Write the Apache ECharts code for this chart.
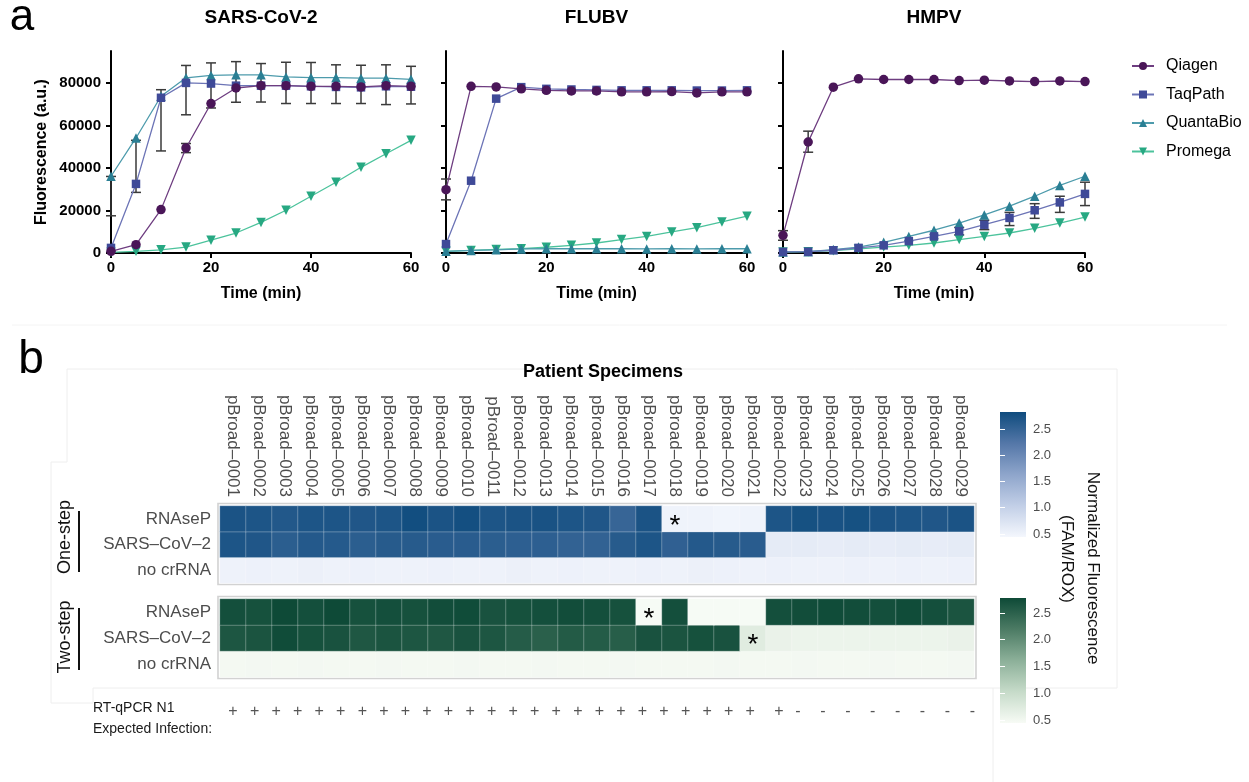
<!DOCTYPE html>
<html>
<head>
<meta charset="utf-8">
<script src="https://cdn.jsdelivr.net/npm/echarts@6/dist/echarts.min.js"></script>
<style>
  html, body { margin: 0; padding: 0; background: #ffffff; }
  #chart { width: 1249px; height: 782px; }
</style>
</head>
<body>
<div id="chart"></div>
<script>
// ---------- panel a: fluorescence over time ----------
const time = [0, 5, 10, 15, 20, 25, 30, 35, 40, 45, 50, 55, 60];
const yTicks = [0, 20000, 40000, 60000, 80000];

const sarsQiagen    = [800, 3900, 20400, 49400, 70300, 77600, 78700, 78700, 78400, 78400, 78100, 78700, 78400];
const sarsTaqPath   = [2400, 32500, 73000, 80000, 79700, 78700, 78700, 78700, 78400, 78100, 77900, 78400, 78200];
const sarsQuantaBio = [36100, 54100, 73700, 82400, 83500, 83800, 83800, 82800, 82500, 82500, 82200, 82200, 81700];
const sarsPromega   = [300, 800, 1500, 2800, 6000, 9400, 14400, 20100, 26700, 33300, 40300, 46700, 53000];
const sarsErrTime = [0, 5, 10, 15, 15, 20, 25, 30, 35, 40, 45, 50, 55, 60];
const sarsErrLow  = [17500, 28500, 48000, 65000, 47200, 68200, 70900, 71000, 70300, 70300, 70300, 70300, 69800, 70100];
const sarsErrHigh = [36000, 53000, 76800, 88200, 51500, 89400, 90000, 89100, 89700, 89600, 88500, 88300, 88500, 87800];

const fluQiagen    = [29800, 78400, 78100, 77200, 76500, 76200, 76200, 75800, 75800, 75900, 75300, 75800, 75800];
const fluTaqPath   = [4200, 34000, 72600, 78000, 77200, 76900, 76700, 76500, 76500, 76500, 76400, 76400, 76500];
const fluQuantaBio = [800, 1200, 1500, 1900, 2000, 2000, 2000, 2000, 1900, 2000, 1900, 2000, 2000];
const fluPromega   = [800, 1200, 1700, 2000, 2700, 3600, 4700, 6300, 7800, 9900, 11900, 14600, 17300];
const fluErrTime = [0];
const fluErrLow  = [25000];
const fluErrHigh = [34800];

const hmpvQiagen    = [8300, 52200, 78000, 81900, 81600, 81600, 81600, 81100, 81300, 80900, 80600, 80900, 80600];
const hmpvTaqPath   = [500, 600, 1300, 2400, 3600, 5600, 7800, 10200, 13300, 16500, 20100, 23800, 27800];
const hmpvQuantaBio = [500, 600, 1600, 2800, 5000, 7800, 10700, 14100, 17900, 22000, 26700, 31800, 36100];
const hmpvPromega   = [500, 600, 1100, 1900, 2800, 3600, 4700, 6300, 7800, 9400, 11600, 14100, 16900];
const hmpvErrTime = [0, 5, 35, 40, 45, 50, 55, 60];
const hmpvErrLow  = [6000, 47400, 8500, 11000, 12900, 16300, 19100, 22300];
const hmpvErrHigh = [10500, 57300, 12000, 15400, 19100, 23200, 26700, 33300];

const kitNames = ['Qiagen', 'TaqPath', 'QuantaBio', 'Promega'];
const panelTitles = ['SARS-CoV-2', 'FLUBV', 'HMPV'];

// ---------- panel b: patient specimen heatmaps ----------
const specimens = ['pBroad–0001','pBroad–0002','pBroad–0003','pBroad–0004','pBroad–0005','pBroad–0006',
  'pBroad–0007','pBroad–0008','pBroad–0009','pBroad–0010','pBroad–0011','pBroad–0012','pBroad–0013',
  'pBroad–0014','pBroad–0015','pBroad–0016','pBroad–0017','pBroad–0018','pBroad–0019','pBroad–0020',
  'pBroad–0021','pBroad–0022','pBroad–0023','pBroad–0024','pBroad–0025','pBroad–0026','pBroad–0027',
  'pBroad–0028','pBroad–0029'];
const targets = ['no crRNA', 'SARS–CoV–2', 'RNAseP'];

const oneStepRNAseP = [2.72,2.70,2.66,2.70,2.70,2.68,2.70,2.80,2.72,2.78,2.70,2.72,2.74,2.70,2.68,2.48,2.72,0.50,0.50,0.48,0.50,2.70,2.76,2.74,2.76,2.72,2.70,2.68,2.72];
const oneStepSARS   = [2.70,2.68,2.58,2.64,2.63,2.58,2.62,2.62,2.60,2.60,2.58,2.56,2.56,2.52,2.52,2.62,2.70,2.54,2.64,2.62,2.60,0.62,0.62,0.60,0.62,0.60,0.62,0.60,0.62];
const oneStepNoCr   = [0.52,0.53,0.52,0.54,0.52,0.53,0.52,0.52,0.53,0.52,0.52,0.54,0.52,0.53,0.52,0.52,0.53,0.52,0.54,0.53,0.52,0.53,0.52,0.52,0.53,0.52,0.53,0.52,0.53];
const twoStepRNAseP = [2.72,2.70,2.78,2.72,2.78,2.70,2.72,2.70,2.74,2.76,2.68,2.70,2.72,2.74,2.72,2.70,0.45,2.72,0.45,0.45,0.45,2.72,2.74,2.76,2.74,2.72,2.76,2.72,2.66];
const twoStepSARS   = [2.64,2.66,2.76,2.70,2.68,2.62,2.66,2.64,2.62,2.68,2.64,2.56,2.52,2.58,2.57,2.54,2.68,2.66,2.70,2.68,0.72,0.60,0.58,0.58,0.58,0.58,0.58,0.58,0.60];
const twoStepNoCr   = [0.48,0.49,0.48,0.49,0.48,0.48,0.49,0.48,0.48,0.49,0.48,0.48,0.49,0.48,0.48,0.49,0.48,0.48,0.48,0.49,0.48,0.48,0.49,0.48,0.48,0.49,0.48,0.48,0.49];
const oneStepMarked = [['pBroad–0018', 'RNAseP']];
const twoStepMarked = [['pBroad–0017', 'RNAseP'], ['pBroad–0021', 'SARS–CoV–2']];

const scaleTicks = [0.5, 1.0, 1.5, 2.0, 2.5];
const oneStepRange = [0.443, 2.823];
const twoStepRange = [0.444, 2.78];
const qpcrN1 = ['+','+','+','+','+','+','+','+','+','+','+','+','+','+','+','+','+','+','+','+','+','+','+','+','+',
  '+','-','-','-','-','-','-','-','-'];

// ---------- styling ----------
const FONT = '"Liberation Sans", Arial, Helvetica, sans-serif';
const kitStyle = {
  Qiagen:    { symbol: 'circle',   size: 9.5, rotate: 0,   color: '#4a1658', line: '#6e3d80', z: 6 },
  TaqPath:   { symbol: 'rect',     size: 8.5, rotate: 0,   color: '#3f4a98', line: '#6c74b6', z: 5 },
  QuantaBio: { symbol: 'triangle', size: 9.5, rotate: 0,   color: '#2a7f94', line: '#4d9bac', z: 4 },
  Promega:   { symbol: 'triangle', size: 9.5, rotate: 180, color: '#27a882', line: '#4cc39c', z: 3 }
};
const blueStops  = ['#f4f7fd', '#c2cfe7', '#8ea5cb', '#5477a8', '#0f4c7e'];
const greenStops = ['#f7fbf5', '#c6dbc9', '#8cb099', '#4c7b64', '#0e4a37'];

const lineGrids = [
  { left: 111, top: 51, width: 300, height: 202 },
  { left: 446, top: 51, width: 301, height: 202 },
  { left: 783, top: 51, width: 302, height: 202 }
];
const heatOne = { left: 220, top: 506, width: 754, height: 77 };
const heatTwo = { left: 220, top: 599, width: 754, height: 78 };
const barOne = { left: 1000, top: 412, width: 26, height: 125 };
const barTwo = { left: 1000, top: 598, width: 26, height: 125 };

const panelSeries = [
  [sarsQiagen, sarsTaqPath, sarsQuantaBio, sarsPromega],
  [fluQiagen, fluTaqPath, fluQuantaBio, fluPromega],
  [hmpvQiagen, hmpvTaqPath, hmpvQuantaBio, hmpvPromega]
];
const panelErrors = [
  [sarsErrTime, sarsErrLow, sarsErrHigh],
  [fluErrTime, fluErrLow, fluErrHigh],
  [hmpvErrTime, hmpvErrLow, hmpvErrHigh]
];

const grid = [];
const xAxis = [];
const yAxis = [];
const series = [];

const axisBlack = { lineStyle: { color: '#000', width: 2 } };
const boldLabel = { color: '#000', fontWeight: 'bold', fontSize: 15, fontFamily: FONT };

lineGrids.forEach((g, i) => {
  grid.push(Object.assign({ containLabel: false }, g));
  xAxis.push({
    gridIndex: i, type: 'value', min: 0, max: 60, interval: 20,
    axisLine: axisBlack,
    axisTick: { length: 5, lineStyle: { color: '#000', width: 2 } },
    axisLabel: Object.assign({ margin: 7 }, boldLabel),
    splitLine: { show: false },
    name: 'Time (min)', nameLocation: 'middle', nameGap: 33,
    nameTextStyle: { color: '#000', fontWeight: 'bold', fontSize: 16, fontFamily: FONT }
  });
  yAxis.push({
    gridIndex: i, type: 'value', min: 0, max: 95000,
    axisLine: Object.assign({ show: true }, axisBlack),
    axisTick: { show: true, length: 5, customValues: yTicks, lineStyle: { color: '#000', width: 2 } },
    axisLabel: Object.assign({ show: i === 0, margin: 10, customValues: yTicks, formatter: v => String(v) }, boldLabel),
    splitLine: { show: false },
    name: i === 0 ? 'Fluorescence (a.u.)' : '', nameLocation: 'middle', nameGap: 61,
    nameTextStyle: { color: '#000', fontWeight: 'bold', fontSize: 16, fontFamily: FONT }
  });

  const [eT, eLo, eHi] = panelErrors[i];
  series.push({
    type: 'custom', xAxisIndex: i, yAxisIndex: i, z: 2, silent: true,
    data: eT.map((t, k) => [t, eLo[k], eHi[k]]),
    encode: { x: 0, y: [1, 2] },
    renderItem: (params, api) => {
      const lo = api.coord([api.value(0), api.value(1)]);
      const hi = api.coord([api.value(0), api.value(2)]);
      const w = 5;
      const st = { stroke: '#3a3a3a', lineWidth: 1.5 };
      return {
        type: 'group', children: [
          { type: 'line', shape: { x1: lo[0], y1: lo[1], x2: hi[0], y2: hi[1] }, style: st },
          { type: 'line', shape: { x1: hi[0] - w, y1: hi[1], x2: hi[0] + w, y2: hi[1] }, style: st },
          { type: 'line', shape: { x1: lo[0] - w, y1: lo[1], x2: lo[0] + w, y2: lo[1] }, style: st }
        ]
      };
    }
  });

  kitNames.forEach((name, k) => {
    const s = kitStyle[name];
    series.push({
      type: 'line', name: name, xAxisIndex: i, yAxisIndex: i, z: s.z,
      data: time.map((t, j) => [t, panelSeries[i][k][j]]),
      symbol: s.symbol, symbolSize: s.size, symbolRotate: s.rotate, showAllSymbol: true,
      itemStyle: { color: s.color, borderWidth: 0 },
      lineStyle: { color: s.line, width: 1.3 },
      emphasis: { disabled: true }
    });
  });
});

// heatmap grids
function heatAxes(gIdx, showLabels) {
  xAxis.push({
    gridIndex: gIdx, type: 'category', data: specimens, position: 'top',
    axisLine: { show: false }, axisTick: { show: false }, splitLine: { show: false },
    axisLabel: { show: showLabels, interval: 0, rotate: 90, margin: 9, fontSize: 17, color: '#4d4d4d', fontFamily: FONT }
  });
  yAxis.push({
    gridIndex: gIdx, type: 'category', data: targets,
    axisLine: { show: false }, axisTick: { show: false }, splitLine: { show: false },
    axisLabel: { margin: 9, fontSize: 17, color: '#4d4d4d', fontFamily: FONT }
  });
}
grid.push(heatOne, heatTwo);
heatAxes(3, true);
heatAxes(4, false);

function heatData(rows, marked) {
  const out = [];
  rows.forEach((vals, r) => {
    vals.forEach((v, c) => {
      const isMarked = marked.some(m => m[0] === specimens[c] && m[1] === targets[r]);
      const item = { value: [c, r, v] };
      if (isMarked) {
        item.label = { show: true, formatter: '*', fontSize: 28, color: '#000', fontFamily: FONT, offset: [0, 7] };
      }
      out.push(item);
    });
  });
  return out;
}
const heatOneIdx = series.length;
series.push({
  type: 'heatmap', xAxisIndex: 3, yAxisIndex: 3, silent: true,
  data: heatData([oneStepNoCr, oneStepSARS, oneStepRNAseP], oneStepMarked),
  itemStyle: { borderColor: 'rgba(255,255,255,0.35)', borderWidth: 0.8 },
  label: { show: false }, emphasis: { disabled: true }
});
const heatTwoIdx = series.length;
series.push({
  type: 'heatmap', xAxisIndex: 4, yAxisIndex: 4, silent: true,
  data: heatData([twoStepNoCr, twoStepSARS, twoStepRNAseP], twoStepMarked),
  itemStyle: { borderColor: 'rgba(255,255,255,0.35)', borderWidth: 0.8 },
  label: { show: false }, emphasis: { disabled: true }
});

// colour bars
function colorBar(gIdx, range, stops) {
  xAxis.push({ gridIndex: gIdx, type: 'value', min: 0, max: 1, show: false });
  const yIdx = yAxis.length;
  yAxis.push({
    gridIndex: gIdx, type: 'value', min: range[0], max: range[1], position: 'right', z: 10,
    axisLine: { show: false }, splitLine: { show: false },
    axisTick: { show: true, inside: true, length: 5, customValues: scaleTicks, lineStyle: { color: '#ffffff', width: 1 } },
    axisLabel: { customValues: scaleTicks, formatter: v => v.toFixed(1), margin: 7, fontSize: 13, color: '#4d4d4d', fontFamily: FONT }
  });
  yAxis.push({
    gridIndex: gIdx, type: 'value', min: range[0], max: range[1], position: 'left', z: 10,
    axisLine: { show: false }, splitLine: { show: false },
    axisTick: { show: true, inside: true, length: 5, customValues: scaleTicks, lineStyle: { color: '#ffffff', width: 1 } },
    axisLabel: { show: false }
  });
  const n = stops.length;
  const gradient = stops.map((c, k) => ({ offset: 1 - k / (n - 1), color: c }));
  series.push({
    type: 'custom', xAxisIndex: gIdx, yAxisIndex: yIdx, silent: true, z: 2,
    data: [[0, range[0], range[1]]],
    encode: { x: 0, y: [1, 2] },
    renderItem: (params, api) => {
      const a = api.coord([0, api.value(2)]);
      const b = api.coord([1, api.value(1)]);
      return {
        type: 'rect',
        shape: { x: a[0], y: a[1], width: b[0] - a[0], height: b[1] - a[1] },
        style: { fill: new echarts.graphic.LinearGradient(0, 0, 0, 1, gradient) }
      };
    }
  });
}
grid.push(barOne, barTwo);
colorBar(5, oneStepRange, blueStops);
colorBar(6, twoStepRange, greenStops);

// ---------- text, frames and annotations ----------
const graphics = [];
function text(x, y, str, opts) {
  const o = opts || {};
  graphics.push({
    type: 'text', x: x, y: y, rotation: o.rotation || 0, silent: true, z: 20,
    style: {
      text: str, fill: o.color || '#000', fontSize: o.size || 16, fontWeight: o.weight || 'normal',
      fontFamily: FONT, align: o.align || 'center', verticalAlign: o.valign || 'middle'
    }
  });
}
function polyline(points, color, width) {
  graphics.push({ type: 'polyline', silent: true, z: 1, shape: { points: points }, style: { stroke: color, lineWidth: width, fill: null } });
}

// faint frame lines around panel b
const faint = '#eeeeee';
polyline([[12, 325], [1227, 325]], '#f4f4f4', 1);
polyline([[67, 462], [67, 369], [1117, 369], [1117, 688], [993, 688], [993, 782]], faint, 1);
polyline([[51, 462], [67, 462]], faint, 1);
polyline([[51, 462], [51, 703], [93, 703], [93, 688], [993, 688]], faint, 1);

// panel letters and titles
text(22, 18, 'a', { size: 44 });
text(31, 360, 'b', { size: 46 });
lineGrids.forEach((g, i) => text(g.left + g.width / 2, 18, panelTitles[i], { size: 19, weight: 'bold' }));
text(603, 372, 'Patient Specimens', { size: 18, weight: 'bold' });

// heatmap boxes
[heatOne, heatTwo].forEach(h => {
  graphics.push({
    type: 'rect', silent: true, z: 1,
    shape: { x: h.left - 2, y: h.top - 2.5, width: h.width + 4, height: h.height + 4 },
    style: { fill: null, stroke: '#d2d2d2', lineWidth: 1.6 }
  });
});

// group labels with brackets
text(65, 537, 'One-step', { size: 18, rotation: Math.PI / 2, color: '#111' });
text(65, 637, 'Two-step', { size: 18, rotation: Math.PI / 2, color: '#111' });
polyline([[79, 511], [79, 572]], '#111', 2);
polyline([[79, 608], [79, 670]], '#111', 2);

// colour bar title
text(1093, 568, 'Normalized Fluorescence', { size: 17, rotation: -Math.PI / 2, color: '#111' });
text(1067, 559, '(FAM/ROX)', { size: 17, rotation: -Math.PI / 2, color: '#111' });

// RT-qPCR row
text(93, 708, 'RT-qPCR N1', { size: 14, align: 'left', color: '#1a1a1a' });
text(93, 729, 'Expected Infection:', { size: 14, align: 'left', color: '#1a1a1a' });
const plusRun = qpcrN1.filter(s => s === '+').length;
qpcrN1.forEach((s, k) => {
  let x;
  if (k < plusRun - 1) x = 233 + k * 21.55;
  else if (k === plusRun - 1) x = 779;
  else x = 798 + (k - plusRun) * 24.9;
  text(x, 712, s, { size: 16, color: '#555' });
});

const option = {
  animation: false,
  backgroundColor: '#ffffff',
  textStyle: { fontFamily: FONT },
  grid: grid,
  xAxis: xAxis,
  yAxis: yAxis,
  legend: {
    data: kitNames, orient: 'vertical', left: 1131, top: 57, padding: 0,
    itemWidth: 22, itemHeight: 10, itemGap: 10.5, selectedMode: false,
    textStyle: { fontSize: 16, color: '#000', fontFamily: FONT, lineHeight: 18, padding: [0, 0, 0, 7] }
  },
  visualMap: [
    { show: false, type: 'continuous', seriesIndex: heatOneIdx, dimension: 2, min: oneStepRange[0], max: oneStepRange[1], inRange: { color: blueStops } },
    { show: false, type: 'continuous', seriesIndex: heatTwoIdx, dimension: 2, min: twoStepRange[0], max: twoStepRange[1], inRange: { color: greenStops } }
  ],
  series: series,
  graphic: { elements: graphics }
};

const chart = echarts.init(document.getElementById('chart'), null, { renderer: 'canvas' });
chart.setOption(option);
</script>
</body>
</html>
